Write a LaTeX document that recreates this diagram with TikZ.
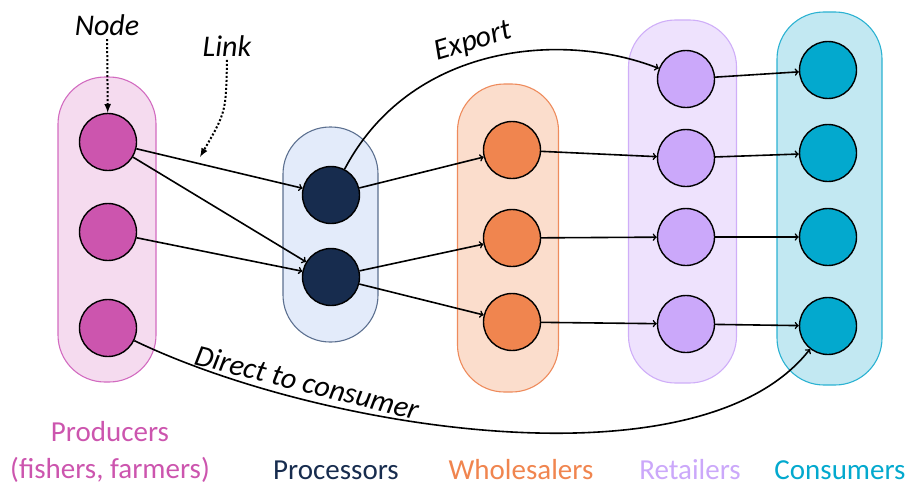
\documentclass[tikz,border=0pt]{standalone}
\usepackage{fontspec}
\setmainfont{Carlito}
\usetikzlibrary{positioning}
\usetikzlibrary{arrows}

\definecolor{prodcol}{HTML}{CC55AE}
\definecolor{prodfill}{HTML}{F5DBEF}
\definecolor{prodline}{HTML}{D26BC0}
\definecolor{proccol}{HTML}{172C4E}
\definecolor{procfill}{HTML}{E3EBFA}
\definecolor{procline}{HTML}{5C7090}
\definecolor{wholecol}{HTML}{F0854F}
\definecolor{wholefill}{HTML}{FBDDCC}
\definecolor{wholeline}{HTML}{EE8B5C}
\definecolor{retcol}{HTML}{CBA8FA}
\definecolor{retfill}{HTML}{EEE2FD}
\definecolor{retline}{HTML}{CFAEF8}
\definecolor{conscol}{HTML}{03A9CE}
\definecolor{consfill}{HTML}{C2E8F2}
\definecolor{consline}{HTML}{2BB2D2}

\tikzset{x=1pt, y=-1pt, % work in points, y running down
group/.style={ % capsule holding one stage of the chain
rectangle,
rounded corners=47pt,
line width=1.1pt},
actor/.style={ % one market actor
circle,
draw=black,
line width=1.4pt,
minimum size=57pt,
inner sep=0pt},
tag/.style={ % stage names under the capsules
font=\fontsize{29}{37}\selectfont,
anchor=base},
note/.style={ % italic remarks
font=\fontsize{30}{34}\selectfont\itshape},
pointer/.style={ % dotted arrows from the remarks
dotted,
line width=2pt,
-latex},
every edge/.style={ % trade links
draw,
->,
line width=1.6pt}}

\begin{document}
\begin{tikzpicture}
\useasboundingbox (0,0) rectangle (917,487);

% stage capsules
\node[group, draw=prodline, fill=prodfill, minimum width=98pt, minimum height=305pt] (producers) at (107,229.5) {};
\node[group, draw=procline, fill=procfill, minimum width=95pt, minimum height=215pt] (processors) at (330.5,234.5) {};
\node[group, draw=wholeline, fill=wholefill, minimum width=101pt, minimum height=308pt] (wholesalers) at (508,238) {};
\node[group, draw=retline, fill=retfill, minimum width=108pt, minimum height=363pt] (retailers) at (682.5,201.5) {};
\node[group, draw=consline, fill=consfill, minimum width=105pt, minimum height=373pt] (consumers) at (829.5,198.5) {};

% actors
\node[actor, fill=prodcol] (prod1) at (108,142) {};
\node[actor, fill=prodcol] (prod2) at (108,232) {};
\node[actor, fill=prodcol] (prod3) at (108,328) {};
\node[actor, fill=proccol] (proc1) at (331,195) {};
\node[actor, fill=proccol] (proc2) at (331,277) {};
\node[actor, fill=wholecol] (whole1) at (512,150) {};
\node[actor, fill=wholecol] (whole2) at (512,238) {};
\node[actor, fill=wholecol] (whole3) at (512,322) {};
\node[actor, fill=retcol] (ret1) at (686,79) {};
\node[actor, fill=retcol] (ret2) at (686,158) {};
\node[actor, fill=retcol] (ret3) at (686,237) {};
\node[actor, fill=retcol] (ret4) at (686,324) {};
\node[actor, fill=conscol] (cons1) at (828,70) {};
\node[actor, fill=conscol] (cons2) at (828,153) {};
\node[actor, fill=conscol] (cons3) at (828,237) {};
\node[actor, fill=conscol] (cons4) at (828,326) {};

% links between stages
\draw (prod1) edge (proc1);
\draw (prod1) edge (proc2);
\draw (prod2) edge (proc2);
\draw (proc1) edge (whole1);
\draw (proc2) edge (whole2);
\draw (proc2) edge (whole3);
\draw (whole1) edge (ret2);
\draw (whole2) edge (ret3);
\draw (whole3) edge (ret4);
\draw (ret1) edge (cons1);
\draw (ret2) edge (cons2);
\draw (ret3) edge (cons3);
\draw (ret4) edge (cons4);

% the two long routes
\draw[->, line width=1.6pt] (proc1) .. controls (410,45) and (560,30) .. node[note, sloped, above=3pt, pos=0.47] {Export} (ret1);
\draw[->, line width=1.6pt] (prod3) .. controls (320,430) and (700,490) .. node[note, sloped, above=3pt, pos=0.25] {Direct to consumer} (cons4);

% remarks
\node[note] (nodetag) at (107,25) {Node};
\node[note] (linktag) at (227,46) {Link};
\coordinate (linkpt) at (200,157);
\draw[pointer] (nodetag) -- (prod1);
\draw[pointer] (linktag.south) .. controls (226,112) .. (linkpt);

% stage names
\node[tag, text=prodcol, align=center] (prodtag) at (110,478) {Producers\\(fishers, farmers)};
\node[tag, text=proccol] (proctag) at (336,479) {Processors};
\node[tag, text=wholecol] (wholetag) at (521,479) {Wholesalers};
\node[tag, text=retcol] (rettag) at (690,479) {Retailers};
\node[tag, text=conscol] (constag) at (840,479) {Consumers};
\end{tikzpicture}
\end{document}
